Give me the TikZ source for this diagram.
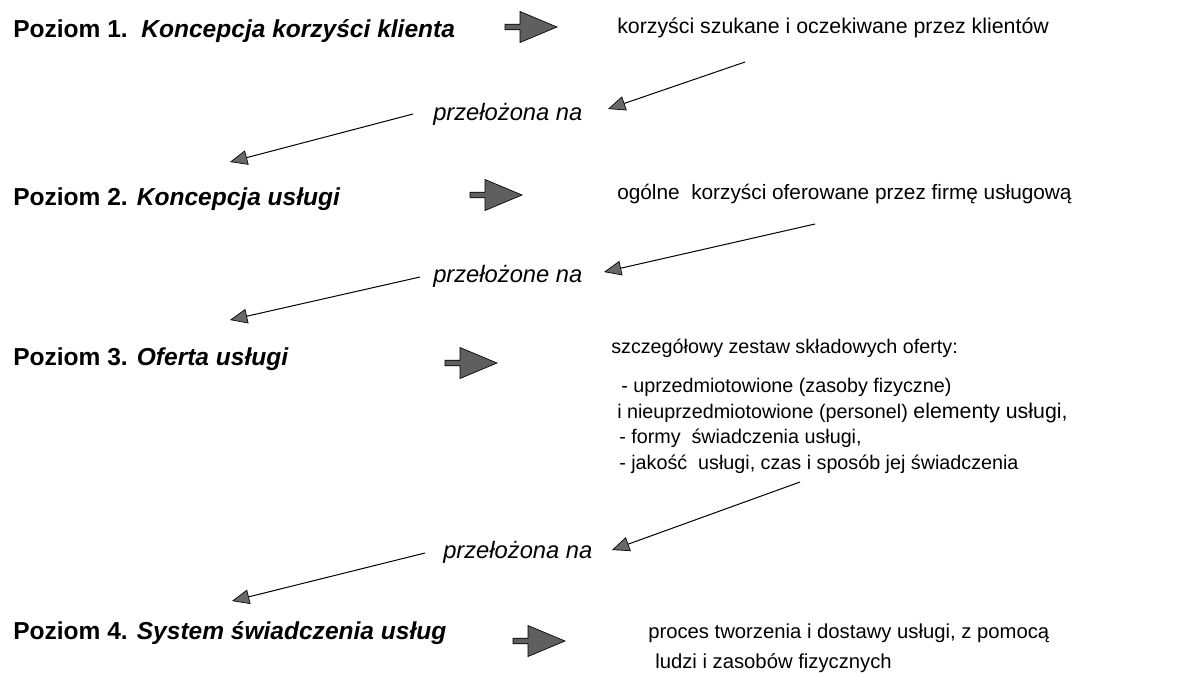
\documentclass[tikz,border=0pt]{standalone}
\usepackage{fontspec}
\setmainfont{Liberation Sans}
\usetikzlibrary{arrows.meta}
\definecolor{headgray}{RGB}{105,105,105}
\definecolor{fatgray}{RGB}{95,95,95}

\begin{document}
\begin{tikzpicture}[x=0.75pt,y=-0.75pt,
  txt/.style={anchor=base west,inner sep=0pt},
  level/.style={txt,font=\fontsize{18.4}{22}\selectfont\bfseries},
  desc/.style={txt,font=\fontsize{16}{19}\selectfont},
  item/.style={txt,font=\fontsize{14.8}{18}\selectfont},
  link/.style={txt,font=\fontsize{17.8}{21}\selectfont\itshape},
  thinarrow/.style={draw=black,line width=0.75pt,
    -{Triangle[length=13pt,width=11pt,fill=headgray,line width=0.5pt]}},
  % block arrow: thin shaft, long pointed head
  fatarrow/.pic={
    \draw[black,line width=0.5pt,fill=fatgray,line join=miter]
      (-26,-2.8) -- (-11,-2.8) -- (-11,-15.5) -- (26,0) -- (-11,15.5)
      -- (-11,2.8) -- (-26,2.8) -- cycle;}
]
\useasboundingbox (0,0) rectangle (1178,676);

% level labels on the left
\node[level] (L1) at (13,37)  {Poziom 1.\ \ \textit{Koncepcja korzyści klienta}};
\node[level] (L2) at (13,205) {Poziom 2. \textit{Koncepcja usługi}};
\node[level] (L3) at (13,365) {Poziom 3. \textit{Oferta usługi}};
\node[level] (L4) at (13,639) {Poziom 4. \textit{System świadczenia usług}};

% block arrows pointing to the descriptions
\coordinate (F1) at (531,27);
\coordinate (F2) at (496,195);
\coordinate (F3) at (471,363);
\coordinate (F4) at (539,641);
\pic at (F1) {fatarrow};
\pic at (F2) {fatarrow};
\pic at (F3) {fatarrow};
\pic at (F4) {fatarrow};

% descriptions on the right
\node[desc] (R1) at (617,33) {korzyści szukane i oczekiwane przez klientów};
\node[desc,font=\fontsize{15.6}{19}\selectfont] (R2) at (617,199)
  {ogólne\ \ korzyści oferowane przez firmę usługową};
\node[item] (R3)  at (611,353) {szczegółowy zestaw składowych oferty:};
\node[item] (R3a) at (621,392) {- uprzedmiotowione (zasoby fizyczne)};
\node[item] (R3b) at (617,418) {i nieuprzedmiotowione (personel)
  {\fontsize{16}{19}\selectfont elementy usługi,}};
\node[item] (R3c) at (619,443) {- formy\ \ świadczenia usługi,};
\node[item] (R3d) at (619,469) {- jakość\ \ usługi, czas i sposób jej świadczenia};
\node[desc,font=\fontsize{15.2}{19}\selectfont] (R4)  at (648,638)
  {proces tworzenia i dostawy usługi, z pomocą};
\node[desc,font=\fontsize{15.2}{19}\selectfont] (R4b) at (655,668)
  {ludzi i zasobów fizycznych};

% transition labels
\node[link] (M1) at (433,120) {przełożona na};
\node[link] (M2) at (433,282) {przełożone na};
\node[link] (M3) at (443,558) {przełożona na};

% connector end points
\coordinate (a1) at (745,62);  \coordinate (t1) at (608,109);
\coordinate (b1) at (413,114); \coordinate (u1) at (230,162);
\coordinate (a2) at (815,224); \coordinate (t2) at (604,272);
\coordinate (b2) at (420,277); \coordinate (u2) at (230,320);
\coordinate (a3) at (800,482); \coordinate (t3) at (612,550);
\coordinate (b3) at (425,553); \coordinate (u3) at (232,601);

% thin connectors
\draw[thinarrow] (a1) -- (t1);
\draw[thinarrow] (b1) -- (u1);
\draw[thinarrow] (a2) -- (t2);
\draw[thinarrow] (b2) -- (u2);
\draw[thinarrow] (a3) -- (t3);
\draw[thinarrow] (b3) -- (u3);
\end{tikzpicture}
\end{document}
